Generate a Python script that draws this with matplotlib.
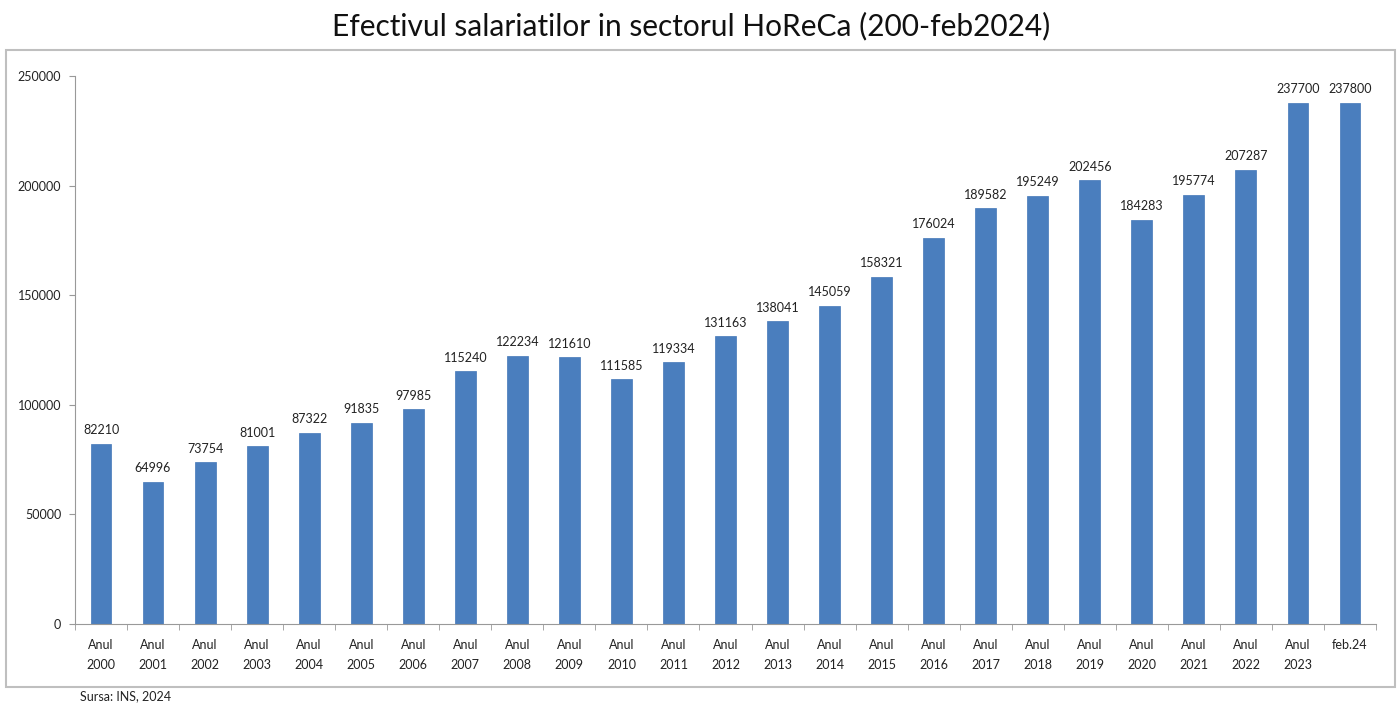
import matplotlib
matplotlib.use("Agg")
import matplotlib.pyplot as plt
from matplotlib.patches import Rectangle
import numpy as np

categories = ["Anul\n2000", "Anul\n2001", "Anul\n2002", "Anul\n2003", "Anul\n2004", "Anul\n2005",
              "Anul\n2006", "Anul\n2007", "Anul\n2008", "Anul\n2009", "Anul\n2010", "Anul\n2011",
              "Anul\n2012", "Anul\n2013", "Anul\n2014", "Anul\n2015", "Anul\n2016", "Anul\n2017",
              "Anul\n2018", "Anul\n2019", "Anul\n2020", "Anul\n2021", "Anul\n2022", "Anul\n2023",
              "feb.24"]
values = [82210, 64996, 73754, 81001, 87322, 91835, 97985, 115240, 122234, 121610, 111585,
          119334, 131163, 138041, 145059, 158321, 176024, 189582, 195249, 202456, 184283,
          195774, 207287, 237700, 237800]
yticks = [0, 50000, 100000, 150000, 200000, 250000]

plt.rcParams['font.family'] = ['Lato', 'DejaVu Sans']

W, H = 1400, 710
fig = plt.figure(figsize=(W/100, H/100), dpi=100)

# outer frame
fig.patches.append(Rectangle((6/W, 1-687/H), (1395-6)/W, (687-50)/H, transform=fig.transFigure,
                             fill=False, edgecolor='#bfbfbf', linewidth=1.5))

ax = fig.add_axes([75/W, 1-624/H, (1376-75)/W, (624-76)/H])
x = np.arange(len(values))
bars = ax.bar(x, values, width=0.4, color='#4A7EBE', edgecolor='#4377B8', linewidth=0.5)
for xi, v in zip(x, values):
    ax.text(xi, v + 3500, str(v), ha='center', va='bottom', fontsize=9, color='#222222')

ax.set_xlim(-0.5, len(values) - 0.5)
ax.set_ylim(0, 250000)
ax.set_yticks(yticks)
ax.set_yticklabels([str(t) for t in yticks], fontsize=9, color='#222222')
ax.set_xticks(x)
ax.set_xticklabels(categories, fontsize=9, color='#222222', linespacing=1.8)
ax.set_xticks(np.arange(-0.5, len(values), 1), minor=True)
ax.tick_params(axis='x', which='major', length=0, pad=11)
ax.tick_params(axis='x', which='minor', length=4, color='#999999')
ax.tick_params(axis='y', length=4, color='#999999', pad=6)
for s in ['top', 'right']:
    ax.spines[s].set_visible(False)
ax.spines['left'].set_color('#999999')
ax.spines['bottom'].set_color('#999999')

fig.text(0.494, 1-26/H, "Efectivul salariatilor in sectorul HoReCa (200-feb2024)", ha='center', va='center',
         fontsize=21.5, color='#111111')
fig.text(80/W, 1-696/H, "Sursa: INS, 2024", ha='left', va='center', fontsize=9, color='#222222')

fig.savefig("out.png", dpi=100)
